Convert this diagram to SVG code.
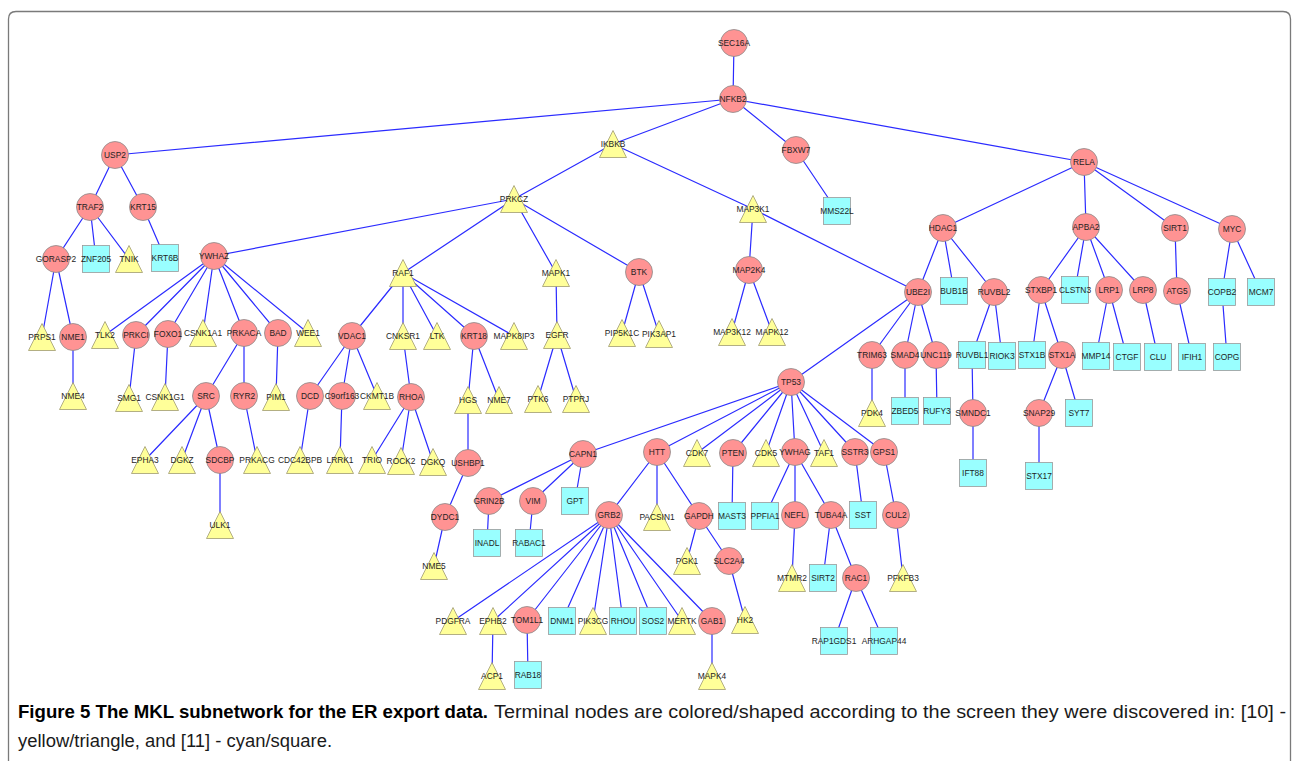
<svg xmlns="http://www.w3.org/2000/svg" xmlns:xlink="http://www.w3.org/1999/xlink" width="1295" height="761" viewBox="0 0 1295 761">
<style>
.c{fill:#ff9393;stroke:#8a8a8a;stroke-width:0.8}
.t{fill:#ffff99;stroke:#a09a70;stroke-width:0.8}
.s{fill:#99ffff;stroke:#9a9a9a;stroke-width:0.8}
.l{font-family:"Liberation Sans",Arial,sans-serif;font-size:8.4px;fill:#1e1e1e;text-anchor:middle}
.e{stroke:#2b2bff;stroke-width:1.2;fill:none}
.cap{font-family:"Liberation Sans",Arial,sans-serif;font-size:17.5px;fill:#1a1a1a}
</style>
<defs>
<circle id="C" r="13.5"/>
<polygon id="T" points="0,-13.5 13.5,13.5 -13.5,13.5"/>
<rect id="S" x="-13.5" y="-13.5" width="27" height="27"/>
</defs>
<rect width="1295" height="761" fill="#ffffff"/>
<path d="M8.5,775 V19 Q8.5,11.5 16,11.5 H1283 Q1290.5,11.5 1290.5,19 V775" fill="none" stroke="#7a7a7a" stroke-width="1.3"/>
<g id="connectors" class="e">
<path d="M734,43 L733,99 M733,99 L115,155 M733,99 L613,144 M733,99 L796,150 M733,99 L1084,162
M115,155 L90,207 M115,155 L143,207 M90,207 L56,259 M90,207 L96,259 M90,207 L129,259 M143,207 L165,258
M56,259 L42,337 M56,259 L73,337 M73,337 L73,396
M613,144 L514,199 M613,144 L753,209
M514,199 L214,256 M514,199 L403,273 M514,199 L556,273 M514,199 L639,272
M214,256 L105,335 M214,256 L136,335 M214,256 L168,334 M214,256 L203,333 M214,256 L244,333 M214,256 L278,333 M214,256 L308,333
M136,335 L129,398 M168,334 L165,397 M244,333 L206,396 M244,333 L244,396 M278,333 L276,397
M206,396 L145,460 M206,396 L182,460 M206,396 L220,460 M220,460 L220,525 M244,396 L257,460
M403,273 L352,336 M403,273 L403,336 M403,273 L437,336 M403,273 L474,336 M403,273 L514,336
M352,336 L310,396 M352,336 L342,396 M352,336 L377,396 M310,396 L300,460 M342,396 L340,460
M403,336 L411,397 M411,397 L372,460 M411,397 L401,461 M411,397 L433,462
M474,336 L468,400 M474,336 L499,400 M468,400 L468,463 M468,463 L445,517 M445,517 L434,566
M556,273 L557,335 M557,335 L538,399 M557,335 L576,399
M639,272 L622,333 M639,272 L659,334
M796,150 L837,211
M753,209 L749,270 M753,209 L918,292 M749,270 L732,332 M749,270 L772,332
M1084,162 L943,228 M1084,162 L1086,227 M1084,162 L1175,228 M1084,162 L1232,229
M943,228 L918,292 M943,228 L954,291 M943,228 L994,292
M918,292 L791,382 M918,292 L872,355 M918,292 L905,355 M918,292 L936,355
M872,355 L872,413 M905,355 L905,411 M936,355 L937,411
M994,292 L972,355 M994,292 L1002,356 M972,355 L973,413 M973,413 L973,473
M1086,227 L1041,290 M1086,227 L1075,290 M1086,227 L1109,290 M1086,227 L1143,290
M1041,290 L1032,355 M1041,290 L1062,355 M1062,355 L1039,413 M1062,355 L1079,413 M1039,413 L1039,476
M1109,290 L1096,356 M1109,290 L1127,357 M1143,290 L1158,357
M1175,228 L1177,291 M1177,291 L1192,357
M1232,229 L1222,292 M1232,229 L1261,292 M1222,292 L1227,357
M791,382 L583,454 M791,382 L657,452 M791,382 L697,453 M791,382 L733,453 M791,382 L766,453 M791,382 L795,452 M791,382 L824,453 M791,382 L855,452 M791,382 L884,452
M583,454 L489,501 M583,454 L533,501 M583,454 L575,501 M489,501 L487,543 M533,501 L529,543
M657,452 L609,515 M657,452 L657,517 M657,452 L699,516
M609,515 L453,621 M609,515 L493,621 M609,515 L527,620 M609,515 L562,621 M609,515 L593,621 M609,515 L623,621 M609,515 L653,621 M609,515 L682,621 M609,515 L712,621
M493,621 L492,676 M527,620 L528,675 M712,621 L712,676
M699,516 L687,561 M699,516 L729,561 M729,561 L745,620
M733,453 L732,516
M795,452 L765,516 M795,452 L795,515 M795,452 L831,515 M795,515 L792,578
M831,515 L823,578 M831,515 L856,578 M856,578 L834,641 M856,578 L884,641
M855,452 L863,515 M884,452 L896,515 M896,515 L903,578"/>
</g>
<g id="n-SEC16A" transform="translate(734,43)"><use href="#C" class="c"/><text class="l" y="3">SEC16A</text></g>
<g id="n-NFKB2" transform="translate(733,99)"><use href="#C" class="c"/><text class="l" y="3">NFKB2</text></g>
<g id="n-USP2" transform="translate(115,155)"><use href="#C" class="c"/><text class="l" y="3">USP2</text></g>
<g id="n-IKBKB" transform="translate(613,144)"><use href="#T" class="t"/><text class="l" y="3">IKBKB</text></g>
<g id="n-FBXW7" transform="translate(796,150)"><use href="#C" class="c"/><text class="l" y="3">FBXW7</text></g>
<g id="n-RELA" transform="translate(1084,162)"><use href="#C" class="c"/><text class="l" y="3">RELA</text></g>
<g id="n-TRAF2" transform="translate(90,207)"><use href="#C" class="c"/><text class="l" y="3">TRAF2</text></g>
<g id="n-KRT15" transform="translate(143,207)"><use href="#C" class="c"/><text class="l" y="3">KRT15</text></g>
<g id="n-PRKCZ" transform="translate(514,199)"><use href="#T" class="t"/><text class="l" y="3">PRKCZ</text></g>
<g id="n-MAP3K1" transform="translate(753,209)"><use href="#T" class="t"/><text class="l" y="3">MAP3K1</text></g>
<g id="n-MMS22L" transform="translate(837,211)"><use href="#S" class="s"/><text class="l" y="3">MMS22L</text></g>
<g id="n-HDAC1" transform="translate(943,228)"><use href="#C" class="c"/><text class="l" y="3">HDAC1</text></g>
<g id="n-APBA2" transform="translate(1086,227)"><use href="#C" class="c"/><text class="l" y="3">APBA2</text></g>
<g id="n-SIRT1" transform="translate(1175,228)"><use href="#C" class="c"/><text class="l" y="3">SIRT1</text></g>
<g id="n-MYC" transform="translate(1232,229)"><use href="#C" class="c"/><text class="l" y="3">MYC</text></g>
<g id="n-GORASP2" transform="translate(56,259)"><use href="#C" class="c"/><text class="l" y="3">GORASP2</text></g>
<g id="n-ZNF205" transform="translate(96,259)"><use href="#S" class="s"/><text class="l" y="3">ZNF205</text></g>
<g id="n-TNIK" transform="translate(129,259)"><use href="#T" class="t"/><text class="l" y="3">TNIK</text></g>
<g id="n-KRT6B" transform="translate(165,258)"><use href="#S" class="s"/><text class="l" y="3">KRT6B</text></g>
<g id="n-YWHAZ" transform="translate(214,256)"><use href="#C" class="c"/><text class="l" y="3">YWHAZ</text></g>
<g id="n-RAF1" transform="translate(403,273)"><use href="#T" class="t"/><text class="l" y="3">RAF1</text></g>
<g id="n-MAPK1" transform="translate(556,273)"><use href="#T" class="t"/><text class="l" y="3">MAPK1</text></g>
<g id="n-BTK" transform="translate(639,272)"><use href="#C" class="c"/><text class="l" y="3">BTK</text></g>
<g id="n-MAP2K4" transform="translate(749,270)"><use href="#C" class="c"/><text class="l" y="3">MAP2K4</text></g>
<g id="n-UBE2I" transform="translate(918,292)"><use href="#C" class="c"/><text class="l" y="3">UBE2I</text></g>
<g id="n-BUB1B" transform="translate(954,291)"><use href="#S" class="s"/><text class="l" y="3">BUB1B</text></g>
<g id="n-RUVBL2" transform="translate(994,292)"><use href="#C" class="c"/><text class="l" y="3">RUVBL2</text></g>
<g id="n-STXBP1" transform="translate(1041,290)"><use href="#C" class="c"/><text class="l" y="3">STXBP1</text></g>
<g id="n-CLSTN3" transform="translate(1075,290)"><use href="#S" class="s"/><text class="l" y="3">CLSTN3</text></g>
<g id="n-LRP1" transform="translate(1109,290)"><use href="#C" class="c"/><text class="l" y="3">LRP1</text></g>
<g id="n-LRP8" transform="translate(1143,290)"><use href="#C" class="c"/><text class="l" y="3">LRP8</text></g>
<g id="n-ATG5" transform="translate(1177,291)"><use href="#C" class="c"/><text class="l" y="3">ATG5</text></g>
<g id="n-COPB2" transform="translate(1222,292)"><use href="#S" class="s"/><text class="l" y="3">COPB2</text></g>
<g id="n-MCM7" transform="translate(1261,292)"><use href="#S" class="s"/><text class="l" y="3">MCM7</text></g>
<g id="n-PRPS1" transform="translate(42,337)"><use href="#T" class="t"/><text class="l" y="3">PRPS1</text></g>
<g id="n-NME1" transform="translate(73,337)"><use href="#C" class="c"/><text class="l" y="3">NME1</text></g>
<g id="n-TLK2" transform="translate(105,335)"><use href="#T" class="t"/><text class="l" y="3">TLK2</text></g>
<g id="n-PRKCI" transform="translate(136,335)"><use href="#C" class="c"/><text class="l" y="3">PRKCI</text></g>
<g id="n-FOXO1" transform="translate(168,334)"><use href="#C" class="c"/><text class="l" y="3">FOXO1</text></g>
<g id="n-CSNK1A1" transform="translate(203,333)"><use href="#T" class="t"/><text class="l" y="3">CSNK1A1</text></g>
<g id="n-PRKACA" transform="translate(244,333)"><use href="#C" class="c"/><text class="l" y="3">PRKACA</text></g>
<g id="n-BAD" transform="translate(278,333)"><use href="#C" class="c"/><text class="l" y="3">BAD</text></g>
<g id="n-WEE1" transform="translate(308,333)"><use href="#T" class="t"/><text class="l" y="3">WEE1</text></g>
<g id="n-VDAC1" transform="translate(352,336)"><use href="#C" class="c"/><text class="l" y="3">VDAC1</text></g>
<g id="n-CNKSR1" transform="translate(403,336)"><use href="#T" class="t"/><text class="l" y="3">CNKSR1</text></g>
<g id="n-LTK" transform="translate(437,336)"><use href="#T" class="t"/><text class="l" y="3">LTK</text></g>
<g id="n-KRT18" transform="translate(474,336)"><use href="#C" class="c"/><text class="l" y="3">KRT18</text></g>
<g id="n-MAPK8IP3" transform="translate(514,336)"><use href="#T" class="t"/><text class="l" y="3">MAPK8IP3</text></g>
<g id="n-EGFR" transform="translate(557,335)"><use href="#T" class="t"/><text class="l" y="3">EGFR</text></g>
<g id="n-PIP5K1C" transform="translate(622,333)"><use href="#T" class="t"/><text class="l" y="3">PIP5K1C</text></g>
<g id="n-PIK3AP1" transform="translate(659,334)"><use href="#T" class="t"/><text class="l" y="3">PIK3AP1</text></g>
<g id="n-MAP3K12" transform="translate(732,332)"><use href="#T" class="t"/><text class="l" y="3">MAP3K12</text></g>
<g id="n-MAPK12" transform="translate(772,332)"><use href="#T" class="t"/><text class="l" y="3">MAPK12</text></g>
<g id="n-TRIM63" transform="translate(872,355)"><use href="#C" class="c"/><text class="l" y="3">TRIM63</text></g>
<g id="n-SMAD4" transform="translate(905,355)"><use href="#C" class="c"/><text class="l" y="3">SMAD4</text></g>
<g id="n-UNC119" transform="translate(936,355)"><use href="#C" class="c"/><text class="l" y="3">UNC119</text></g>
<g id="n-RUVBL1" transform="translate(972,355)"><use href="#S" class="s"/><text class="l" y="3">RUVBL1</text></g>
<g id="n-RIOK3" transform="translate(1002,356)"><use href="#S" class="s"/><text class="l" y="3">RIOK3</text></g>
<g id="n-STX1B" transform="translate(1032,355)"><use href="#S" class="s"/><text class="l" y="3">STX1B</text></g>
<g id="n-STX1A" transform="translate(1062,355)"><use href="#C" class="c"/><text class="l" y="3">STX1A</text></g>
<g id="n-MMP14" transform="translate(1096,356)"><use href="#S" class="s"/><text class="l" y="3">MMP14</text></g>
<g id="n-CTGF" transform="translate(1127,357)"><use href="#S" class="s"/><text class="l" y="3">CTGF</text></g>
<g id="n-CLU" transform="translate(1158,357)"><use href="#S" class="s"/><text class="l" y="3">CLU</text></g>
<g id="n-IFIH1" transform="translate(1192,357)"><use href="#S" class="s"/><text class="l" y="3">IFIH1</text></g>
<g id="n-COPG" transform="translate(1227,357)"><use href="#S" class="s"/><text class="l" y="3">COPG</text></g>
<g id="n-TP53" transform="translate(791,382)"><use href="#C" class="c"/><text class="l" y="3">TP53</text></g>
<g id="n-NME4" transform="translate(73,396)"><use href="#T" class="t"/><text class="l" y="3">NME4</text></g>
<g id="n-SMG1" transform="translate(129,398)"><use href="#T" class="t"/><text class="l" y="3">SMG1</text></g>
<g id="n-CSNK1G1" transform="translate(165,397)"><use href="#T" class="t"/><text class="l" y="3">CSNK1G1</text></g>
<g id="n-SRC" transform="translate(206,396)"><use href="#C" class="c"/><text class="l" y="3">SRC</text></g>
<g id="n-RYR2" transform="translate(244,396)"><use href="#C" class="c"/><text class="l" y="3">RYR2</text></g>
<g id="n-PIM1" transform="translate(276,397)"><use href="#T" class="t"/><text class="l" y="3">PIM1</text></g>
<g id="n-DCD" transform="translate(310,396)"><use href="#C" class="c"/><text class="l" y="3">DCD</text></g>
<g id="n-C9orf163" transform="translate(342,396)"><use href="#C" class="c"/><text class="l" y="3">C9orf163</text></g>
<g id="n-CKMT1B" transform="translate(377,396)"><use href="#T" class="t"/><text class="l" y="3">CKMT1B</text></g>
<g id="n-RHOA" transform="translate(411,397)"><use href="#C" class="c"/><text class="l" y="3">RHOA</text></g>
<g id="n-HGS" transform="translate(468,400)"><use href="#T" class="t"/><text class="l" y="3">HGS</text></g>
<g id="n-NME7" transform="translate(499,400)"><use href="#T" class="t"/><text class="l" y="3">NME7</text></g>
<g id="n-PTK6" transform="translate(538,399)"><use href="#T" class="t"/><text class="l" y="3">PTK6</text></g>
<g id="n-PTPRJ" transform="translate(576,399)"><use href="#T" class="t"/><text class="l" y="3">PTPRJ</text></g>
<g id="n-PDK4" transform="translate(872,413)"><use href="#T" class="t"/><text class="l" y="3">PDK4</text></g>
<g id="n-ZBED5" transform="translate(905,411)"><use href="#S" class="s"/><text class="l" y="3">ZBED5</text></g>
<g id="n-RUFY3" transform="translate(937,411)"><use href="#S" class="s"/><text class="l" y="3">RUFY3</text></g>
<g id="n-SMNDC1" transform="translate(973,413)"><use href="#C" class="c"/><text class="l" y="3">SMNDC1</text></g>
<g id="n-SNAP29" transform="translate(1039,413)"><use href="#C" class="c"/><text class="l" y="3">SNAP29</text></g>
<g id="n-SYT7" transform="translate(1079,413)"><use href="#S" class="s"/><text class="l" y="3">SYT7</text></g>
<g id="n-CAPN1" transform="translate(583,454)"><use href="#C" class="c"/><text class="l" y="3">CAPN1</text></g>
<g id="n-HTT" transform="translate(657,452)"><use href="#C" class="c"/><text class="l" y="3">HTT</text></g>
<g id="n-CDK7" transform="translate(697,453)"><use href="#T" class="t"/><text class="l" y="3">CDK7</text></g>
<g id="n-PTEN" transform="translate(733,453)"><use href="#C" class="c"/><text class="l" y="3">PTEN</text></g>
<g id="n-CDK5" transform="translate(766,453)"><use href="#T" class="t"/><text class="l" y="3">CDK5</text></g>
<g id="n-YWHAG" transform="translate(795,452)"><use href="#C" class="c"/><text class="l" y="3">YWHAG</text></g>
<g id="n-TAF1" transform="translate(824,453)"><use href="#T" class="t"/><text class="l" y="3">TAF1</text></g>
<g id="n-SSTR3" transform="translate(855,452)"><use href="#C" class="c"/><text class="l" y="3">SSTR3</text></g>
<g id="n-GPS1" transform="translate(884,452)"><use href="#C" class="c"/><text class="l" y="3">GPS1</text></g>
<g id="n-EPHA3" transform="translate(145,460)"><use href="#T" class="t"/><text class="l" y="3">EPHA3</text></g>
<g id="n-DGKZ" transform="translate(182,460)"><use href="#T" class="t"/><text class="l" y="3">DGKZ</text></g>
<g id="n-SDCBP" transform="translate(220,460)"><use href="#C" class="c"/><text class="l" y="3">SDCBP</text></g>
<g id="n-PRKACG" transform="translate(257,460)"><use href="#T" class="t"/><text class="l" y="3">PRKACG</text></g>
<g id="n-CDC42BPB" transform="translate(300,460)"><use href="#T" class="t"/><text class="l" y="3">CDC42BPB</text></g>
<g id="n-LRRK1" transform="translate(340,460)"><use href="#T" class="t"/><text class="l" y="3">LRRK1</text></g>
<g id="n-TRIO" transform="translate(372,460)"><use href="#T" class="t"/><text class="l" y="3">TRIO</text></g>
<g id="n-ROCK2" transform="translate(401,461)"><use href="#T" class="t"/><text class="l" y="3">ROCK2</text></g>
<g id="n-DGKQ" transform="translate(433,462)"><use href="#T" class="t"/><text class="l" y="3">DGKQ</text></g>
<g id="n-USHBP1" transform="translate(468,463)"><use href="#C" class="c"/><text class="l" y="3">USHBP1</text></g>
<g id="n-IFT88" transform="translate(973,473)"><use href="#S" class="s"/><text class="l" y="3">IFT88</text></g>
<g id="n-STX17" transform="translate(1039,476)"><use href="#S" class="s"/><text class="l" y="3">STX17</text></g>
<g id="n-GRIN2B" transform="translate(489,501)"><use href="#C" class="c"/><text class="l" y="3">GRIN2B</text></g>
<g id="n-VIM" transform="translate(533,501)"><use href="#C" class="c"/><text class="l" y="3">VIM</text></g>
<g id="n-GPT" transform="translate(575,501)"><use href="#S" class="s"/><text class="l" y="3">GPT</text></g>
<g id="n-GRB2" transform="translate(609,515)"><use href="#C" class="c"/><text class="l" y="3">GRB2</text></g>
<g id="n-PACSIN1" transform="translate(657,517)"><use href="#T" class="t"/><text class="l" y="3">PACSIN1</text></g>
<g id="n-GAPDH" transform="translate(699,516)"><use href="#C" class="c"/><text class="l" y="3">GAPDH</text></g>
<g id="n-MAST3" transform="translate(732,516)"><use href="#S" class="s"/><text class="l" y="3">MAST3</text></g>
<g id="n-PPFIA1" transform="translate(765,516)"><use href="#S" class="s"/><text class="l" y="3">PPFIA1</text></g>
<g id="n-NEFL" transform="translate(795,515)"><use href="#C" class="c"/><text class="l" y="3">NEFL</text></g>
<g id="n-TUBA4A" transform="translate(831,515)"><use href="#C" class="c"/><text class="l" y="3">TUBA4A</text></g>
<g id="n-SST" transform="translate(863,515)"><use href="#S" class="s"/><text class="l" y="3">SST</text></g>
<g id="n-CUL2" transform="translate(896,515)"><use href="#C" class="c"/><text class="l" y="3">CUL2</text></g>
<g id="n-DYDC1" transform="translate(445,517)"><use href="#C" class="c"/><text class="l" y="3">DYDC1</text></g>
<g id="n-ULK1" transform="translate(220,525)"><use href="#T" class="t"/><text class="l" y="3">ULK1</text></g>
<g id="n-INADL" transform="translate(487,543)"><use href="#S" class="s"/><text class="l" y="3">INADL</text></g>
<g id="n-RABAC1" transform="translate(529,543)"><use href="#S" class="s"/><text class="l" y="3">RABAC1</text></g>
<g id="n-PGK1" transform="translate(687,561)"><use href="#T" class="t"/><text class="l" y="3">PGK1</text></g>
<g id="n-SLC2A4" transform="translate(729,561)"><use href="#C" class="c"/><text class="l" y="3">SLC2A4</text></g>
<g id="n-NME5" transform="translate(434,566)"><use href="#T" class="t"/><text class="l" y="3">NME5</text></g>
<g id="n-MTMR2" transform="translate(792,578)"><use href="#T" class="t"/><text class="l" y="3">MTMR2</text></g>
<g id="n-SIRT2" transform="translate(823,578)"><use href="#S" class="s"/><text class="l" y="3">SIRT2</text></g>
<g id="n-RAC1" transform="translate(856,578)"><use href="#C" class="c"/><text class="l" y="3">RAC1</text></g>
<g id="n-PFKFB3" transform="translate(903,578)"><use href="#T" class="t"/><text class="l" y="3">PFKFB3</text></g>
<g id="n-HK2" transform="translate(745,620)"><use href="#T" class="t"/><text class="l" y="3">HK2</text></g>
<g id="n-PDGFRA" transform="translate(453,621)"><use href="#T" class="t"/><text class="l" y="3">PDGFRA</text></g>
<g id="n-EPHB2" transform="translate(493,621)"><use href="#T" class="t"/><text class="l" y="3">EPHB2</text></g>
<g id="n-TOM1L1" transform="translate(527,620)"><use href="#C" class="c"/><text class="l" y="3">TOM1L1</text></g>
<g id="n-DNM1" transform="translate(562,621)"><use href="#S" class="s"/><text class="l" y="3">DNM1</text></g>
<g id="n-PIK3CG" transform="translate(593,621)"><use href="#T" class="t"/><text class="l" y="3">PIK3CG</text></g>
<g id="n-RHOU" transform="translate(623,621)"><use href="#S" class="s"/><text class="l" y="3">RHOU</text></g>
<g id="n-SOS2" transform="translate(653,621)"><use href="#S" class="s"/><text class="l" y="3">SOS2</text></g>
<g id="n-MERTK" transform="translate(682,621)"><use href="#T" class="t"/><text class="l" y="3">MERTK</text></g>
<g id="n-GAB1" transform="translate(712,621)"><use href="#C" class="c"/><text class="l" y="3">GAB1</text></g>
<g id="n-RAP1GDS1" transform="translate(834,641)"><use href="#S" class="s"/><text class="l" y="3">RAP1GDS1</text></g>
<g id="n-ARHGAP44" transform="translate(884,641)"><use href="#S" class="s"/><text class="l" y="3">ARHGAP44</text></g>
<g id="n-ACP1" transform="translate(492,676)"><use href="#T" class="t"/><text class="l" y="3">ACP1</text></g>
<g id="n-RAB18" transform="translate(528,675)"><use href="#S" class="s"/><text class="l" y="3">RAB18</text></g>
<g id="n-MAPK4" transform="translate(712,676)"><use href="#T" class="t"/><text class="l" y="3">MAPK4</text></g>
<g id="caption" class="cap">
<text x="18" y="718" font-weight="bold" fill="#000" textLength="470" lengthAdjust="spacingAndGlyphs">Figure 5 The MKL subnetwork for the ER export data.</text>
<text x="494" y="718" textLength="792" lengthAdjust="spacingAndGlyphs">Terminal nodes are colored/shaped according to the screen they were discovered in: [10] -</text>
<text x="18" y="747" textLength="314" lengthAdjust="spacingAndGlyphs">yellow/triangle, and [11] - cyan/square.</text>
</g>
</svg>
